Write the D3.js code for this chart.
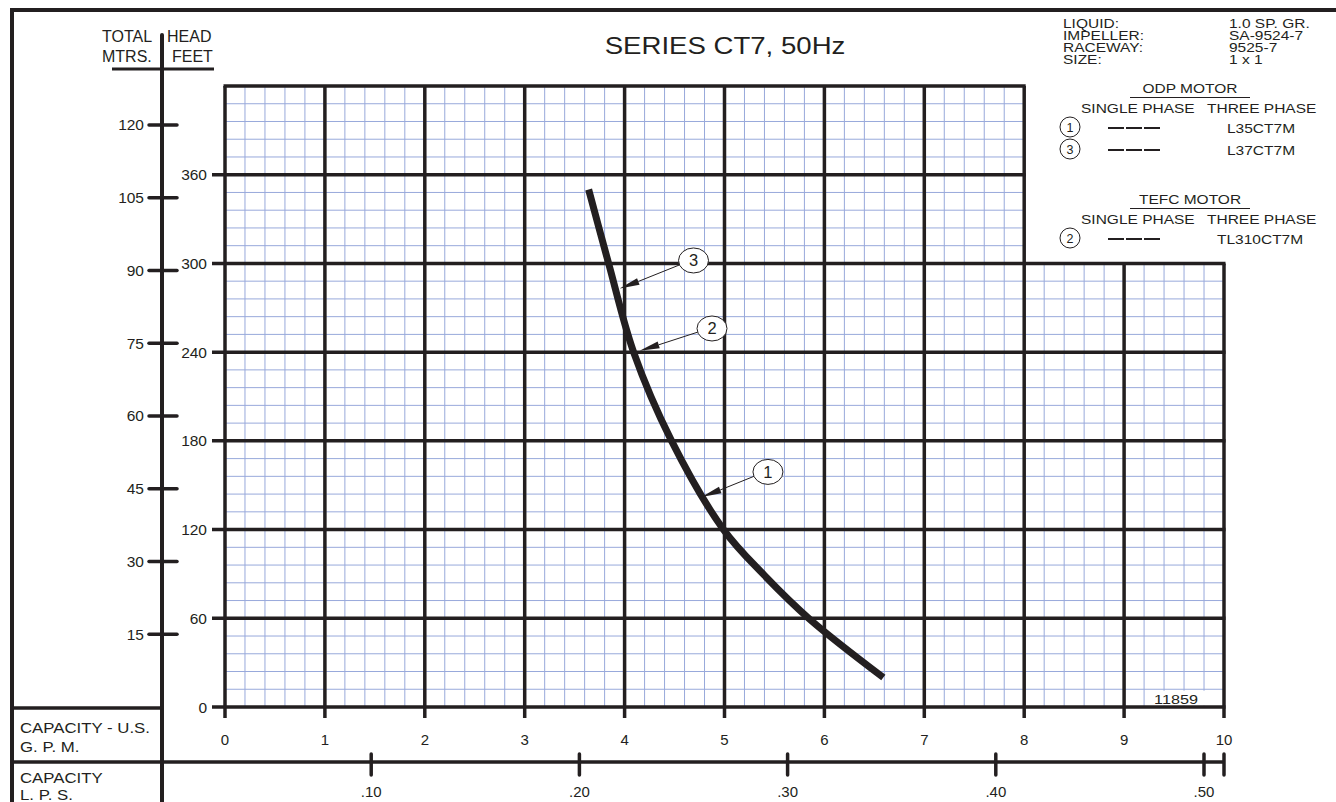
<!DOCTYPE html>
<html>
<head>
<meta charset="utf-8">
<script src="https://cdn.jsdelivr.net/npm/d3@7"></script>
<style>
  body { margin: 0; background: #fff; }
  svg { display: block; font-family: "Liberation Sans", Arial, sans-serif; }
</style>
</head>
<body>
<script>
// pump curve
var gpm  = [3.64, 3.84, 4.09, 4.47, 4.99, 5.40, 5.86, 6.59],
    head = [350, 300, 240, 180, 120, 89, 59, 20];

// axis ticks
var gpmTicks  = [0, 1, 2, 3, 4, 5, 6, 7, 8, 9, 10],
    feetTicks = [0, 60, 120, 180, 240, 300, 360],
    mtrTicks  = [15, 30, 45, 60, 75, 90, 105, 120],
    lpsTicks  = [0.10, 0.20, 0.30, 0.40, 0.50],
    lpsLabels = [".10", ".20", ".30", ".40", ".50"];

// callouts: label, circle (gpm, ft), arrow tip (gpm, ft)
var calloutLabel = ["3", "2", "1"],
    calloutAt    = [[4.69, 302], [4.875, 256], [5.435, 159]],
    calloutTip   = [[3.95, 283], [4.15, 241], [4.77, 142]];

// legend
var specNames  = ["LIQUID:", "IMPELLER:", "RACEWAY:", "SIZE:"],
    specValues = ["1.0 SP. GR.", "SA-9524-7", "9525-7", "1 x 1"],
    odpModels  = [["1", "L35CT7M"], ["3", "L37CT7M"]],
    tefcModels = [["2", "TL310CT7M"]];

var w = 1336, h = 802, ink = "#231f20", blue = "#98a9db";

var svg = d3.select("body").append("svg")
  .attr("width", w)
  .attr("height", h);

var x = d3.scaleLinear().domain([0, 10]).range([225, 1224]),
    y = d3.scaleLinear().domain([0, 420]).range([707, 86]),
    m = function(v) { return y(v * 3.28084); },
    lps = d3.scaleLinear().domain([0, 0.5]).range([163, 1204]);

// text helper, sx stretches glyphs sideways like the scan
function txt(px, py, s, size, anchor, sx) {
  return svg.append("text")
    .attr("transform", "translate(" + px + "," + py + ")scale(" + (sx || 1) + ",1)")
    .attr("font-size", size)
    .attr("text-anchor", anchor || "start")
    .attr("fill", ink)
    .text(s);
}
function line(x1, y1, x2, y2, sw, col) {
  return svg.append("line")
    .attr("x1", x1).attr("y1", y1).attr("x2", x2).attr("y2", y2)
    .attr("stroke", col || ink)
    .attr("stroke-width", sw);
}

// minor grid
var minorX = d3.range(0, 10.01, 0.2),
    minorY = d3.range(0, 420.1, 12);
svg.append("g").selectAll("line")
  .data(minorX)
  .enter().append("line")
    .attr("x1", function(d) { return x(d); })
    .attr("x2", function(d) { return x(d); })
    .attr("y1", function(d) { return d > 8.01 ? y(300) : y(420); })
    .attr("y2", y(0))
    .attr("stroke", blue).attr("stroke-width", 1);
svg.append("g").selectAll("line")
  .data(minorY)
  .enter().append("line")
    .attr("x1", x(0))
    .attr("x2", function(d) { return d > 300 ? x(8) : x(10); })
    .attr("y1", function(d) { return y(d); })
    .attr("y2", function(d) { return y(d); })
    .attr("stroke", blue).attr("stroke-width", 1);

// blank patch for the drawing number
svg.append("rect")
  .attr("x", 1145).attr("y", y(11))
  .attr("width", x(10) - 1147).attr("height", y(1) - y(11))
  .attr("fill", "#fff");
txt(1176, 704, "11859", 13.5, "middle", 1.2);

// major grid
svg.append("g").selectAll("line")
  .data(gpmTicks)
  .enter().append("line")
    .attr("x1", function(d) { return x(d); })
    .attr("x2", function(d) { return x(d); })
    .attr("y1", function(d) { return d > 8 ? y(300) : y(420); })
    .attr("y2", y(0) + 11)
    .attr("stroke", ink).attr("stroke-width", 3.5);
svg.append("g").selectAll("line")
  .data(feetTicks.concat([420]))
  .enter().append("line")
    .attr("x1", function(d) { return d === 420 ? x(0) - 1.5 : 212; })
    .attr("x2", function(d) { return d > 300 ? x(8) + 1.5 : x(10) + 1.5; })
    .attr("y1", function(d) { return y(d); })
    .attr("y2", function(d) { return y(d); })
    .attr("stroke", ink).attr("stroke-width", 3.5);

// feet labels
feetTicks.forEach(function(d) {
  txt(207, y(d) + 5.5, d, 15.5, "end");
});

// meters axis
line(162, 35, 162, h, 4).attr("stroke-linecap", "round");
line(112, 69, 214, 69, 3);
mtrTicks.forEach(function(d) {
  line(149, m(d), 177, m(d), 3.5).attr("stroke-linecap", "round");
  txt(144, m(d) + 5.5, d, 15.5, "end");
});
txt(102, 42, "TOTAL", 16);
txt(167, 42, "HEAD", 16);
txt(102, 62, "MTRS.", 16);
txt(172, 62, "FEET", 16);

// gpm labels
gpmTicks.forEach(function(d) {
  txt(x(d), 745, d, 15, "middle");
});

// frame and capacity boxes
line(10, 10, w, 10, 4);
line(12, 8, 12, h, 4);
line(12, 708, 162, 708, 3.5);
line(12, 762, x(10), 762, 3.5);
lpsTicks.forEach(function(d, i) {
  line(lps(d), 754, lps(d), 775, 3.5).attr("stroke-linecap", "round");
  txt(lps(d), 797, lpsLabels[i], 15, "middle");
});
line(x(10), 754, x(10), 775, 3.5).attr("stroke-linecap", "round");
txt(20, 733, "CAPACITY - U.S.", 14, "start", 1.2);
txt(20, 752, "G. P. M.", 14, "start", 1.2);
txt(20, 783, "CAPACITY", 14, "start", 1.2);
txt(20, 800, "L. P. S.", 14, "start", 1.2);

// title
txt(725, 54, "SERIES  CT7,  50Hz", 23, "middle", 1.2);

// performance curve
svg.append("path")
  .datum(d3.zip(gpm, head))
  .attr("d", d3.line()
    .x(function(d) { return x(d[0]); })
    .y(function(d) { return y(d[1]); })
    .curve(d3.curveCatmullRom.alpha(0.5)))
  .attr("fill", "none")
  .attr("stroke", ink)
  .attr("stroke-width", 7);

// callouts
calloutLabel.forEach(function(lb, i) {
  var cx = x(calloutAt[i][0]), cy = y(calloutAt[i][1]),
      tx = x(calloutTip[i][0]), ty = y(calloutTip[i][1]),
      rx = 15, ry = 12.5,
      ang = Math.atan2(ty - cy, tx - cx),
      sx = cx + rx * Math.cos(ang), sy = cy + ry * Math.sin(ang),
      ux = Math.cos(ang), uy = Math.sin(ang),
      len = 20, hw = 3.5,
      bx = tx - ux * len, by = ty - uy * len;
  line(sx, sy, bx, by, 1);
  svg.append("path")
    .attr("d", "M" + tx + "," + ty + "L" + (bx - uy * hw) + "," + (by + ux * hw) +
               "L" + (bx + uy * hw) + "," + (by - ux * hw) + "Z")
    .attr("fill", ink);
  svg.append("ellipse")
    .attr("cx", cx).attr("cy", cy).attr("rx", rx).attr("ry", ry)
    .attr("fill", "#fff").attr("stroke", ink).attr("stroke-width", 1);
  txt(cx, cy + 6, lb, 16.5, "middle");
});

// legend block
var ls = 12.5, lx = 1.24;
specNames.forEach(function(s, i) {
  txt(1063, 28 + i * 12, s, ls, "start", lx);
  txt(1229, 28 + i * 12, specValues[i], ls, "start", lx);
});

function motorBlock(title, top, models, modelX) {
  txt(1190, top, title, ls, "middle", lx);
  line(1130, top + 4.5, 1250, top + 4.5, 1);
  txt(1081, top + 20, "SINGLE PHASE", ls, "start", lx);
  txt(1207, top + 20, "THREE PHASE", ls, "start", lx);
  models.forEach(function(d, i) {
    var cy = top + 34 + i * 22;
    svg.append("circle")
      .attr("cx", 1070).attr("cy", cy).attr("r", 10)
      .attr("fill", "#fff").attr("stroke", ink).attr("stroke-width", 1);
    txt(1070, cy + 4.5, d[0], 12.5, "middle");
    line(1108, cy + 1, 1160, cy + 1, 2.2).attr("stroke-dasharray", "16,2");
    txt(modelX, cy + 5.5, d[1], ls, "start", lx);
  });
}
motorBlock("ODP MOTOR", 93, odpModels, 1227);
motorBlock("TEFC MOTOR", 204, tefcModels, 1217);
</script>
</body>
</html>
